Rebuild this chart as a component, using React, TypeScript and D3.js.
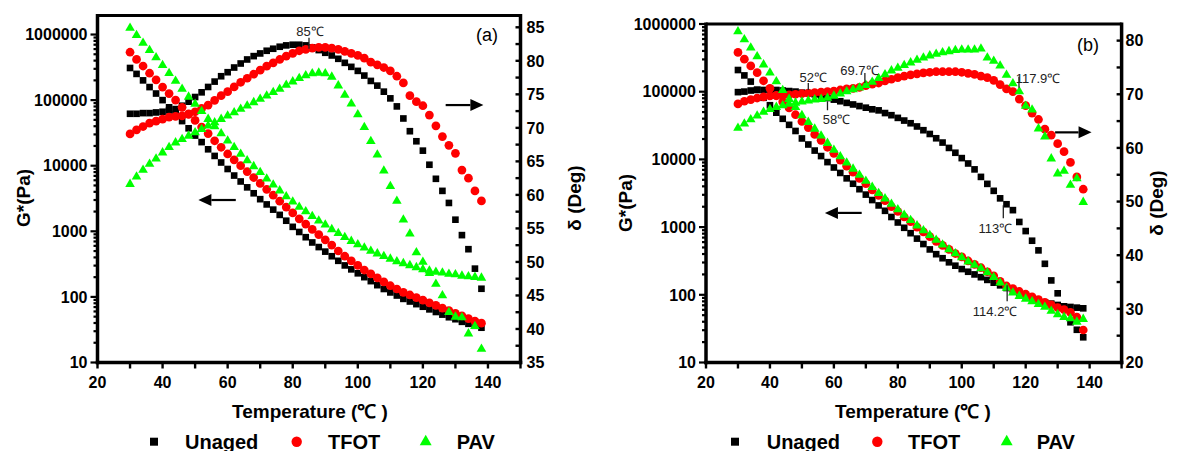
import React from "react";
import * as d3 from "d3";

// ---------- DATA ----------
const temperature = [30, 32, 34, 36, 38, 40, 42, 44, 46, 48, 50, 52, 54, 56, 58, 60, 62, 64, 66, 68, 70, 72, 74, 76, 78, 80, 82, 84, 86, 88, 90, 92, 94, 96, 98, 100, 102, 104, 106, 108, 110, 112, 114, 116, 118, 120, 122, 124, 126, 128, 130, 132, 134, 136, 138];

const seriesNames = ["Unaged", "TFOT", "PAV"];
const seriesColors = ["#000000", "#ff0000", "#00ff00"];

// Panel (a): complex modulus G* (Pa)
const aGUnaged = [309000, 251000, 200000, 158000, 126000, 100000, 77600, 61700, 47900, 37200, 28800, 22900, 17800, 14100, 11200, 8910, 7080, 5750, 4680, 3800, 3090, 2570, 2140, 1780, 1450, 1170, 977, 813, 676, 575, 490, 417, 355, 302, 263, 229, 200, 174, 151, 132, 117, 105, 93.3, 85.1, 77.6, 70.8, 64.6, 58.9, 53.7, 49.0, 45.7, 41.7, 38.9, 36.3, 33.9];
const aGTFOT = [537000, 417000, 331000, 257000, 204000, 158000, 126000, 100000, 77600, 61700, 49000, 38900, 30900, 24000, 19100, 15100, 12300, 10000, 8130, 6610, 5370, 4370, 3550, 2880, 2340, 1910, 1550, 1290, 1070, 891, 741, 617, 501, 417, 355, 302, 257, 224, 195, 170, 148, 132, 117, 107, 97.7, 89.1, 81.3, 74.1, 67.6, 61.7, 56.2, 51.3, 46.8, 42.7, 39.8];
const aGPAV = [1260000, 977000, 741000, 575000, 447000, 339000, 257000, 195000, 148000, 112000, 87100, 67600, 51300, 39800, 30900, 24000, 19100, 15100, 12000, 9770, 7940, 6310, 5130, 4170, 3390, 2820, 2340, 2000, 1700, 1450, 1260, 1070, 933, 813, 708, 631, 562, 501, 457, 417, 380, 347, 324, 302, 282, 263, 251, 240, 234, 224, 219, 209, 204, 200, 195];
// Panel (a): phase angle δ (deg)
const aDUnaged = [72.1, 72.1, 72.2, 72.2, 72.3, 72.4, 72.6, 72.8, 73.3, 73.9, 74.6, 75.3, 76.1, 76.9, 77.7, 78.3, 79.0, 79.6, 80.2, 80.7, 81.1, 81.5, 81.8, 82.1, 82.3, 82.4, 82.4, 82.3, 82.0, 81.6, 81.2, 80.8, 80.3, 79.7, 79.1, 78.5, 77.8, 77.0, 76.3, 75.4, 74.4, 73.2, 71.4, 69.5, 68.0, 66.6, 64.5, 62.4, 60.6, 58.8, 56.3, 54.0, 51.9, 49.0, 46.0];
const aDTFOT = [69.1, 69.7, 70.2, 70.7, 71.0, 71.3, 71.6, 71.7, 71.8, 72.0, 72.4, 72.9, 73.4, 74.1, 74.8, 75.4, 76.1, 76.8, 77.4, 78.0, 78.6, 79.2, 79.7, 80.2, 80.7, 81.1, 81.5, 81.7, 81.9, 82.0, 82.0, 81.9, 81.7, 81.4, 81.1, 80.8, 80.4, 79.8, 79.4, 79.0, 78.5, 77.7, 76.7, 74.8, 73.9, 73.3, 71.9, 70.3, 68.7, 67.4, 66.2, 63.7, 62.5, 60.6, 59.1];
const aDPAV = [61.6, 62.7, 63.7, 64.6, 65.4, 66.3, 67.1, 67.8, 68.3, 68.8, 69.3, 69.8, 70.3, 70.8, 71.3, 71.8, 72.3, 72.8, 73.3, 73.8, 74.3, 74.8, 75.3, 75.8, 76.4, 76.9, 77.4, 77.8, 78.1, 78.2, 78.1, 77.6, 76.3, 74.9, 73.6, 72.0, 70.1, 68.0, 66.0, 63.6, 61.3, 59.1, 56.3, 54.2, 51.4, 50.0, 48.3, 46.7, 45.0, 42.5, 41.8, 41.7, 39.3, 40.4, 37.0];

// Panel (b): complex modulus G* (Pa)
const bGUnaged = [209000, 174000, 141000, 107000, 81300, 63100, 49000, 39800, 32400, 26300, 20400, 16600, 13500, 11200, 9120, 7590, 6310, 5250, 4370, 3630, 3020, 2510, 2090, 1740, 1410, 1170, 977, 813, 676, 562, 468, 398, 347, 302, 269, 240, 219, 200, 182, 166, 151, 138, 126, 115, 105, 95.5, 89.1, 83.2, 77.6, 74.1, 70.8, 67.6, 66.1, 64.6, 63.1];
const bGTFOT = [380000, 302000, 240000, 191000, 145000, 112000, 87100, 70800, 57500, 45700, 36300, 29500, 23400, 19100, 15100, 12300, 9770, 7940, 6460, 5250, 4370, 3550, 2950, 2450, 2000, 1700, 1410, 1200, 1000, 851, 724, 617, 537, 468, 407, 363, 316, 282, 251, 219, 191, 158, 135, 123, 112, 102, 93.3, 85.1, 77.6, 70.8, 64.6, 60.3, 55.0, 46.8, 30.2];
const bGPAV = [776000, 589000, 447000, 331000, 251000, 191000, 141000, 105000, 77600, 58900, 44700, 35500, 28200, 22400, 17400, 13800, 11000, 8910, 7240, 5890, 4790, 3890, 3160, 2630, 2190, 1820, 1510, 1260, 1050, 891, 759, 646, 550, 468, 407, 355, 309, 275, 245, 214, 182, 151, 126, 107, 95.5, 87.1, 79.4, 72.4, 66.1, 57.5, 51.3, 46.8, 44.7, 39.8, 43.7];
// Panel (b): phase angle δ (deg)
const bDUnaged = [70.4, 70.5, 70.7, 70.8, 70.8, 70.8, 70.8, 70.7, 70.6, 70.5, 70.3, 70.2, 70.0, 69.7, 69.3, 69.0, 68.7, 68.4, 68.1, 67.8, 67.5, 67.2, 67.0, 66.5, 66.1, 65.6, 65.1, 64.6, 64.0, 63.3, 62.6, 61.8, 61.0, 60.0, 59.1, 58.1, 57.1, 56.0, 54.6, 53.3, 52.0, 50.6, 49.5, 48.4, 46.2, 44.5, 42.7, 40.9, 38.4, 35.3, 32.9, 30.2, 27.5, 26.1, 24.7];
const bDTFOT = [68.2, 68.7, 69.0, 69.3, 69.5, 69.7, 69.8, 69.8, 69.9, 70.0, 70.1, 70.2, 70.3, 70.4, 70.5, 70.6, 70.8, 71.0, 71.1, 71.3, 71.6, 71.9, 72.1, 72.5, 72.8, 73.1, 73.4, 73.6, 73.8, 74.0, 74.1, 74.2, 74.2, 74.2, 74.2, 74.1, 73.9, 73.7, 73.4, 73.1, 72.6, 71.8, 71.0, 70.5, 69.1, 67.9, 66.5, 65.3, 63.5, 62.4, 60.8, 59.3, 57.3, 54.6, 52.3];
const bDPAV = [63.7, 64.5, 65.3, 66.0, 66.7, 67.2, 67.6, 67.9, 68.2, 68.4, 68.6, 68.8, 69.0, 69.1, 69.3, 69.7, 70.1, 70.5, 70.9, 71.2, 71.7, 72.3, 73.0, 73.7, 74.4, 74.9, 75.4, 75.9, 76.4, 76.8, 77.2, 77.5, 77.8, 78.0, 78.2, 78.3, 78.3, 78.3, 78.5, 76.8, 76.2, 75.3, 73.6, 72.0, 70.5, 67.8, 67.1, 63.6, 62.1, 58.0, 55.2, 55.7, 53.1, 54.3, 49.9];

// Tick labels
const xTickLabels = [20, 40, 60, 80, 100, 120, 140];
const gTickLabels = [10, 100, 1000, 10000, 100000, 1000000];
const aDeltaTickLabels = [35, 40, 45, 50, 55, 60, 65, 70, 75, 80, 85];
const bDeltaTickLabels = [20, 30, 40, 50, 60, 70, 80];

// Annotations (temperature, value on curve)
const aAnnLabels = ["85℃"];
const aAnnTemps = [85];
const aAnnValues = [81.8];
const bAnnLabels = ["52℃", "69.7℃", "58℃", "117.9℃", "113℃", "114.2℃"];
const bAnnTemps = [52, 69.7, 58, 117.9, 113, 114.2];
const bAnnValues = [70.8, 72.1, 68.7, 71.2, 49.3, 138];

// ---------- LAYOUT ----------
const FONT = "'Liberation Sans', Arial, Helvetica, sans-serif";

type Ann = { label: string; t: number; v: number; on: "g" | "d"; dir: number; len: number; dx: number; dy: number };
type Arrow = { t0: number; t1: number; v: number; on: "g" | "d" };

type PanelSpec = {
  left: number; right: number; top: number; bottom: number;
  gDomain: [number, number]; dDomain: [number, number];
  dTickMin: number; dTickMax: number; dTickStep: number; dLabels: number[];
  g: number[][]; d: number[][];
  anns: Ann[]; arrows: Arrow[];
  tag: string; tagX: number; tagY: number;
  gTitleX: number; dTitleX: number; titleY: number; xTitleX: number;
  legend: { mx: number; tx: number }[];
  dLabelGap: number;
};

const annLayoutA = [{ on: "d", dir: -1, len: 11, dx: 1, dy: -2 }];
const annLayoutB = [
  { on: "d", dir: -1, len: 7, dx: 5, dy: -1 },
  { on: "d", dir: -1, len: 10, dx: -5.5, dy: 1.5 },
  { on: "d", dir: 1, len: 9, dx: 9, dy: 13.5 },
  { on: "d", dir: -1, len: 11, dx: 19, dy: 6 },
  { on: "d", dir: 1, len: 13, dx: -8, dy: 15 },
  { on: "g", dir: 1, len: 16, dx: -12, dy: 15 },
];

const panels: PanelSpec[] = [
  {
    left: 97.5, right: 520.5, top: 15.5, bottom: 362.5,
    gDomain: [10, 1950000], dDomain: [35, 86.76],
    dTickMin: 35, dTickMax: 85, dTickStep: 2.5, dLabels: aDeltaTickLabels,
    g: [aGUnaged, aGTFOT, aGPAV], d: [aDUnaged, aDTFOT, aDPAV],
    anns: aAnnLabels.map((label, i) => ({ label, t: aAnnTemps[i], v: aAnnValues[i], ...(annLayoutA[i] as any) })),
    arrows: [
      { t0: 62.5, t1: 51, v: 3000, on: "g" },
      { t0: 127, t1: 138.6, v: 73.4, on: "d" },
    ],
    tag: "(a)", tagX: 487, tagY: 41,
    gTitleX: 23, dTitleX: 574, titleY: 198, xTitleX: 310,
    legend: [{ mx: 154, tx: 185 }, { mx: 296.7, tx: 328 }, { mx: 425.7, tx: 456.7 }],
    dLabelGap: 6,
  },
  {
    left: 706, right: 1121.6, top: 24, bottom: 362.5,
    gDomain: [10, 1000000], dDomain: [20, 83.1],
    dTickMin: 20, dTickMax: 80, dTickStep: 5, dLabels: bDeltaTickLabels,
    g: [bGUnaged, bGTFOT, bGPAV], d: [bDUnaged, bDTFOT, bDPAV],
    anns: bAnnLabels.map((label, i) => ({ label, t: bAnnTemps[i], v: bAnnValues[i], ...(annLayoutB[i] as any) })),
    arrows: [
      { t0: 68.7, t1: 57.2, v: 1620, on: "g" },
      { t0: 129.2, t1: 140.6, v: 62.9, on: "d" },
    ],
    tag: "(b)", tagX: 1088, tagY: 51,
    gTitleX: 625, dTitleX: 1156, titleY: 203, xTitleX: 913,
    legend: [{ mx: 735, tx: 766.7 }, { mx: 877.3, tx: 908 }, { mx: 1006.7, tx: 1036.7 }],
    dLabelGap: 4,
  },
];

const markerPaths = [
  d3.symbol().type(d3.symbolSquare).size(44)()!,
  d3.symbol().type(d3.symbolCircle).size(60)()!,
  d3.symbol().type(d3.symbolTriangle).size(40)()!,
];
const legendPaths = [
  d3.symbol().type(d3.symbolSquare).size(64)()!,
  d3.symbol().type(d3.symbolCircle).size(85)()!,
  d3.symbol().type(d3.symbolTriangle).size(62)()!,
];

function Panel({ p }: { p: PanelSpec }) {
  const x = d3.scaleLinear().domain([20, 150]).range([p.left, p.right]);
  const yG = d3.scaleLog().domain(p.gDomain).range([p.bottom, p.top]);
  const yD = d3.scaleLinear().domain(p.dDomain).range([p.bottom, p.top]);
  const yOf = (on: string, v: number) => (on === "g" ? yG(v) : yD(v));

  const gTicks: { v: number; major: boolean }[] = [];
  for (let e = 1; e <= 6; e++) {
    for (let k = 1; k <= 9; k++) {
      const v = k * Math.pow(10, e);
      if (v >= p.gDomain[0] && v <= p.gDomain[1]) gTicks.push({ v, major: k === 1 });
    }
  }
  const xTicks = d3.range(20, 151, 10);
  const dTicks = d3.range(p.dTickMin, p.dTickMax + 0.001, p.dTickStep);
  const fmt = d3.format("d");

  return (
    <g>
      {/* data */}
      {[0, 1, 2].map((s) => (
        <g key={s} fill={seriesColors[s]}>
          {temperature.map((t, i) => (
            <path key={"g" + i} d={markerPaths[s]} transform={`translate(${x(t)},${yG(p.g[s][i])})`} />
          ))}
          {temperature.map((t, i) => (
            <path key={"d" + i} d={markerPaths[s]} transform={`translate(${x(t)},${yD(p.d[s][i])})`} />
          ))}
        </g>
      ))}

      {/* frame */}
      <line x1={p.left} x2={p.right} y1={p.top} y2={p.top} stroke="#000" strokeWidth={3} />
      <line x1={p.left} x2={p.left} y1={p.top - 1.5} y2={p.bottom + 1.75} stroke="#000" strokeWidth={3.5} />
      <line x1={p.right} x2={p.right} y1={p.top - 1.5} y2={p.bottom + 1.75} stroke="#000" strokeWidth={3.5} />
      <line x1={p.left - 1.75} x2={p.right + 1.75} y1={p.bottom} y2={p.bottom} stroke="#000" strokeWidth={3.5} />

      {/* left ticks */}
      {gTicks.map((tk, i) => (
        <line key={i} x1={p.left} x2={p.left - (tk.major ? 7 : 4)} y1={yG(tk.v)} y2={yG(tk.v)} stroke="#000" strokeWidth={2.2} />
      ))}
      {gTickLabels.map((v) => (
        <text key={v} x={p.left - 10} y={yG(v)} dy="0.36em" textAnchor="end" fontSize={16} fontWeight="bold">
          {fmt(v)}
        </text>
      ))}

      {/* bottom ticks */}
      {xTicks.map((v) => (
        <line key={v} x1={x(v)} x2={x(v)} y1={p.bottom} y2={p.bottom + 6} stroke="#000" strokeWidth={2.4} />
      ))}
      {xTickLabels.map((v) => (
        <text key={v} x={x(v)} y={388} textAnchor="middle" fontSize={16} fontWeight="bold">
          {v}
        </text>
      ))}

      {/* right ticks */}
      {dTicks.map((v) => (
        <line key={v} x1={p.right} x2={p.right - 5} y1={yD(v)} y2={yD(v)} stroke="#000" strokeWidth={2.4} />
      ))}
      {p.dLabels.map((v) => (
        <text key={v} x={p.right + p.dLabelGap} y={yD(v)} dy="0.36em" textAnchor="start" fontSize={16} fontWeight="bold">
          {v}
        </text>
      ))}

      {/* axis titles */}
      <text transform={`translate(${p.gTitleX},${p.titleY}) rotate(-90)`} textAnchor="middle" dy="0.36em" fontSize={19} fontWeight="bold">
        G*(Pa)
      </text>
      <text transform={`translate(${p.dTitleX},${p.titleY}) rotate(-90)`} textAnchor="middle" dy="0.36em" fontSize={19} fontWeight="bold">
        δ (Deg)
      </text>
      <text x={p.xTitleX} y={418} textAnchor="middle" fontSize={19} fontWeight="bold">
        Temperature (℃ )
      </text>

      {/* panel tag */}
      <text x={p.tagX} y={p.tagY} textAnchor="middle" fontSize={18}>
        {p.tag}
      </text>

      {/* annotations */}
      {p.anns.map((a, i) => {
        const cx = x(a.t);
        const cy = yOf(a.on, a.v);
        const ey = cy + a.dir * a.len;
        return (
          <g key={i}>
            <line x1={cx} x2={cx} y1={cy} y2={ey} stroke="#222" strokeWidth={1.3} />
            <text x={cx + a.dx} y={ey + a.dy} textAnchor="middle" fontSize={13} fill="#222">
              {a.label}
            </text>
          </g>
        );
      })}

      {/* arrows */}
      {p.arrows.map((ar, i) => {
        const x0 = x(ar.t0);
        const x1 = x(ar.t1);
        const yy = yOf(ar.on, ar.v);
        const sgn = x1 > x0 ? 1 : -1;
        const hl = 13;
        return (
          <g key={i}>
            <line x1={x0} x2={x1 - sgn * hl} y1={yy} y2={yy} stroke="#000" strokeWidth={2.2} />
            <path d={`M${x1},${yy} L${x1 - sgn * hl},${yy - 6} L${x1 - sgn * hl},${yy + 6} Z`} fill="#000" />
          </g>
        );
      })}

      {/* legend */}
      {p.legend.map((l, s) => (
        <g key={s}>
          <path d={legendPaths[s]} transform={`translate(${l.mx},${441.7})`} fill={seriesColors[s]} />
          <text x={l.tx} y={448.5} fontSize={20} fontWeight="bold">
            {seriesNames[s]}
          </text>
        </g>
      ))}
    </g>
  );
}

export default function App() {
  return (
    <svg
      width={1182}
      height={451}
      style={{ position: "absolute", left: 0, top: 0, display: "block" }}
      fontFamily={FONT}
    >
      <rect width={1182} height={451} fill="#fff" />
      {panels.map((p, i) => (
        <Panel key={i} p={p} />
      ))}
    </svg>
  );
}
